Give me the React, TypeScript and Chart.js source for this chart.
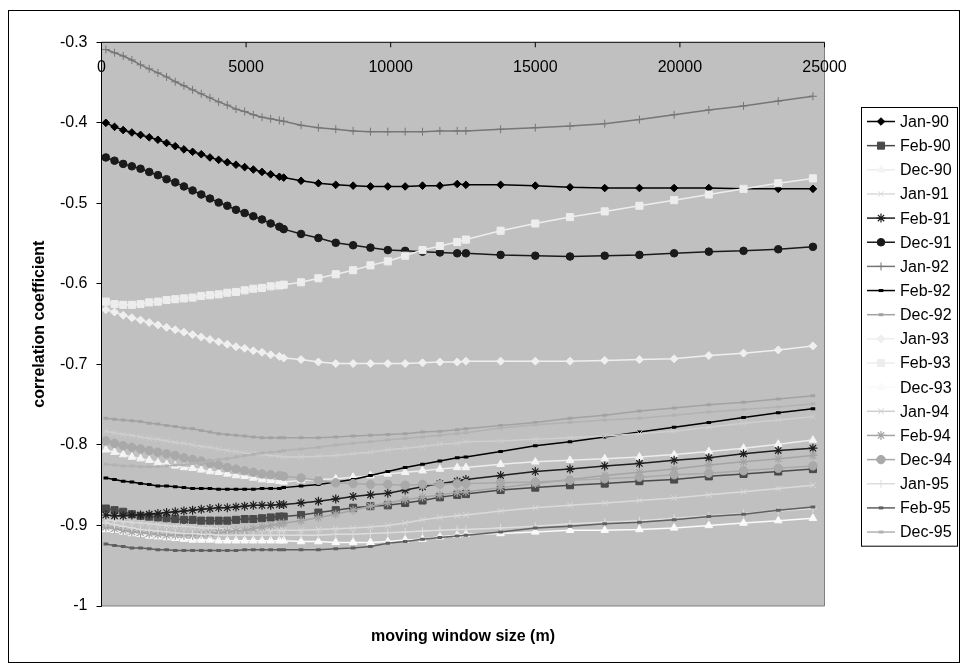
import React, { useEffect, useRef } from "react";
import { Chart, registerables } from "chart.js";
import { drawPoint } from "chart.js/helpers";

Chart.register(...registerables);

// ---------- data ----------
const windowSizes = [
  150, 450, 750, 1050, 1350, 1650, 1950, 2250, 2550, 2850, 3150, 3450, 3750, 4050, 4350, 4650, 4950, 5250, 5550, 5850, 6150,
  6300, 6900, 7500, 8100, 8700, 9300, 9900, 10500, 11100, 11700, 12300,
  12600, 13800, 15000, 16200, 17400, 18600, 19800, 21000, 22200, 23400, 24600,
];

const xTickLabels = [0, 5000, 10000, 15000, 20000, 25000];
const yTickValues = [-1, -0.9, -0.8, -0.7, -0.6, -0.5, -0.4, -0.3];

const seriesNames = [
  "Jan-90", "Feb-90", "Dec-90", "Jan-91", "Feb-91", "Dec-91", "Jan-92", "Feb-92", "Dec-92",
  "Jan-93", "Feb-93", "Dec-93", "Jan-94", "Feb-94", "Dec-94", "Jan-95", "Feb-95", "Dec-95",
];

const jan90 = [-0.400,-0.405,-0.409,-0.412,-0.415,-0.418,-0.421,-0.425,-0.429,-0.433,-0.436,-0.439,-0.443,-0.446,-0.449,-0.452,-0.455,-0.458,-0.461,-0.464,-0.467,
  -0.468,-0.472,-0.475,-0.477,-0.478,-0.479,-0.479,-0.479,-0.478,-0.478,-0.476,
  -0.477,-0.477,-0.478,-0.480,-0.481,-0.481,-0.481,-0.481,-0.482,-0.482,-0.482];
const feb90 = [-0.879,-0.881,-0.883,-0.886,-0.888,-0.889,-0.890,-0.891,-0.892,-0.893,-0.893,-0.894,-0.894,-0.894,-0.894,-0.893,-0.892,-0.892,-0.891,-0.890,-0.889,
  -0.889,-0.887,-0.884,-0.881,-0.878,-0.876,-0.875,-0.872,-0.869,-0.865,-0.862,
  -0.861,-0.856,-0.853,-0.850,-0.848,-0.845,-0.843,-0.839,-0.836,-0.833,-0.830];
const dec90 = [-0.806,-0.809,-0.812,-0.815,-0.817,-0.819,-0.822,-0.824,-0.826,-0.828,-0.829,-0.831,-0.833,-0.834,-0.836,-0.838,-0.839,-0.841,-0.843,-0.844,-0.845,
  -0.846,-0.844,-0.843,-0.842,-0.840,-0.838,-0.836,-0.834,-0.832,-0.830,-0.828,
  -0.828,-0.824,-0.821,-0.819,-0.817,-0.815,-0.812,-0.808,-0.804,-0.799,-0.794];
const jan91 = [-0.893,-0.894,-0.895,-0.896,-0.897,-0.898,-0.899,-0.900,-0.901,-0.901,-0.902,-0.903,-0.903,-0.904,-0.904,-0.905,-0.905,-0.905,-0.905,-0.906,-0.906,
  -0.906,-0.906,-0.905,-0.904,-0.903,-0.902,-0.900,-0.897,-0.893,-0.890,-0.888,
  -0.887,-0.882,-0.878,-0.875,-0.872,-0.869,-0.866,-0.862,-0.858,-0.854,-0.850];
const feb91 = [-0.887,-0.888,-0.888,-0.887,-0.887,-0.886,-0.885,-0.884,-0.883,-0.882,-0.881,-0.880,-0.879,-0.878,-0.878,-0.877,-0.876,-0.875,-0.875,-0.875,-0.874,
  -0.874,-0.872,-0.870,-0.867,-0.864,-0.862,-0.860,-0.856,-0.852,-0.848,-0.845,
  -0.843,-0.838,-0.833,-0.830,-0.826,-0.823,-0.819,-0.816,-0.811,-0.807,-0.804];
const dec91 = [-0.443,-0.447,-0.451,-0.454,-0.457,-0.461,-0.465,-0.470,-0.474,-0.479,-0.484,-0.489,-0.494,-0.499,-0.503,-0.508,-0.512,-0.516,-0.520,-0.525,-0.529,
  -0.532,-0.538,-0.543,-0.549,-0.552,-0.555,-0.558,-0.559,-0.560,-0.561,-0.562,
  -0.562,-0.564,-0.565,-0.566,-0.565,-0.564,-0.562,-0.560,-0.559,-0.557,-0.554];
const jan92 = [-0.309,-0.313,-0.317,-0.322,-0.328,-0.333,-0.338,-0.343,-0.349,-0.354,-0.359,-0.364,-0.369,-0.374,-0.378,-0.383,-0.386,-0.390,-0.393,-0.395,-0.397,
  -0.398,-0.403,-0.406,-0.408,-0.410,-0.411,-0.411,-0.411,-0.411,-0.410,-0.410,
  -0.410,-0.408,-0.406,-0.404,-0.401,-0.396,-0.390,-0.384,-0.379,-0.373,-0.367];
const feb92 = [-0.841,-0.843,-0.845,-0.846,-0.848,-0.849,-0.851,-0.851,-0.852,-0.853,-0.854,-0.854,-0.854,-0.855,-0.855,-0.855,-0.855,-0.855,-0.854,-0.854,-0.854,
  -0.853,-0.851,-0.849,-0.846,-0.843,-0.838,-0.833,-0.828,-0.824,-0.820,-0.816,
  -0.815,-0.808,-0.801,-0.796,-0.790,-0.784,-0.778,-0.772,-0.766,-0.760,-0.755];
const dec92 = [-0.767,-0.768,-0.769,-0.770,-0.771,-0.773,-0.774,-0.776,-0.777,-0.779,-0.780,-0.782,-0.784,-0.786,-0.787,-0.788,-0.789,-0.790,-0.791,-0.791,-0.791,
  -0.791,-0.791,-0.791,-0.790,-0.789,-0.788,-0.787,-0.786,-0.784,-0.783,-0.781,
  -0.780,-0.776,-0.772,-0.767,-0.763,-0.758,-0.754,-0.750,-0.747,-0.743,-0.739];
const jan93 = [-0.632,-0.635,-0.639,-0.642,-0.645,-0.648,-0.651,-0.654,-0.657,-0.660,-0.663,-0.666,-0.669,-0.672,-0.675,-0.678,-0.680,-0.683,-0.685,-0.688,-0.690,
  -0.692,-0.694,-0.697,-0.699,-0.699,-0.699,-0.699,-0.699,-0.698,-0.697,-0.697,
  -0.696,-0.696,-0.696,-0.696,-0.695,-0.694,-0.693,-0.689,-0.686,-0.682,-0.677];
const feb93 = [-0.622,-0.625,-0.626,-0.626,-0.625,-0.623,-0.622,-0.620,-0.619,-0.618,-0.617,-0.615,-0.614,-0.613,-0.611,-0.610,-0.608,-0.606,-0.605,-0.603,-0.602,
  -0.601,-0.598,-0.593,-0.588,-0.583,-0.577,-0.572,-0.565,-0.558,-0.553,-0.548,
  -0.545,-0.534,-0.525,-0.517,-0.510,-0.503,-0.496,-0.489,-0.482,-0.475,-0.469];
const dec93 = [-0.905,-0.906,-0.908,-0.910,-0.911,-0.913,-0.914,-0.915,-0.916,-0.917,-0.918,-0.918,-0.918,-0.919,-0.919,-0.919,-0.919,-0.919,-0.919,-0.919,-0.919,
  -0.919,-0.920,-0.920,-0.921,-0.921,-0.921,-0.920,-0.918,-0.917,-0.914,-0.912,
  -0.911,-0.910,-0.908,-0.906,-0.906,-0.905,-0.903,-0.900,-0.897,-0.894,-0.891];
const jan94 = [-0.783,-0.785,-0.787,-0.788,-0.790,-0.792,-0.793,-0.795,-0.797,-0.798,-0.800,-0.802,-0.803,-0.805,-0.807,-0.808,-0.810,-0.811,-0.812,-0.813,-0.814,
  -0.815,-0.815,-0.814,-0.813,-0.811,-0.809,-0.806,-0.804,-0.802,-0.799,-0.798,
  -0.796,-0.795,-0.793,-0.791,-0.789,-0.786,-0.783,-0.778,-0.773,-0.769,-0.765];
const feb94 = [-0.902,-0.904,-0.906,-0.908,-0.909,-0.910,-0.911,-0.912,-0.912,-0.912,-0.912,-0.911,-0.910,-0.909,-0.908,-0.907,-0.906,-0.904,-0.902,-0.900,-0.898,
  -0.897,-0.894,-0.890,-0.886,-0.881,-0.876,-0.872,-0.868,-0.865,-0.862,-0.859,
  -0.858,-0.853,-0.848,-0.843,-0.838,-0.834,-0.830,-0.825,-0.821,-0.817,-0.813];
const dec94 = [-0.795,-0.798,-0.801,-0.803,-0.805,-0.807,-0.809,-0.811,-0.813,-0.816,-0.818,-0.820,-0.823,-0.825,-0.828,-0.830,-0.832,-0.834,-0.836,-0.837,-0.838,
  -0.839,-0.841,-0.844,-0.847,-0.848,-0.849,-0.849,-0.850,-0.849,-0.849,-0.848,
  -0.848,-0.847,-0.846,-0.844,-0.842,-0.840,-0.837,-0.835,-0.832,-0.829,-0.826];
const jan95 = [-0.897,-0.899,-0.901,-0.903,-0.905,-0.906,-0.907,-0.908,-0.909,-0.910,-0.910,-0.911,-0.911,-0.912,-0.912,-0.912,-0.912,-0.912,-0.912,-0.912,-0.912,
  -0.912,-0.912,-0.912,-0.911,-0.911,-0.910,-0.909,-0.908,-0.907,-0.906,-0.905,
  -0.905,-0.903,-0.901,-0.898,-0.896,-0.894,-0.891,-0.888,-0.885,-0.882,-0.879];
const feb95 = [-0.923,-0.925,-0.926,-0.928,-0.928,-0.929,-0.930,-0.930,-0.931,-0.931,-0.931,-0.931,-0.931,-0.931,-0.931,-0.931,-0.930,-0.930,-0.930,-0.930,-0.930,
  -0.930,-0.930,-0.930,-0.929,-0.928,-0.926,-0.922,-0.920,-0.917,-0.915,-0.913,
  -0.912,-0.908,-0.903,-0.901,-0.898,-0.896,-0.893,-0.889,-0.886,-0.881,-0.877];
const dec95 = [-0.824,-0.825,-0.826,-0.826,-0.827,-0.827,-0.827,-0.826,-0.825,-0.825,-0.823,-0.822,-0.820,-0.818,-0.817,-0.815,-0.813,-0.812,-0.810,-0.809,-0.808,
  -0.807,-0.805,-0.803,-0.800,-0.798,-0.796,-0.794,-0.792,-0.790,-0.788,-0.786,
  -0.785,-0.779,-0.775,-0.772,-0.769,-0.767,-0.763,-0.759,-0.756,-0.753,-0.749];

const seriesValues = [
  jan90, feb90, dec90, jan91, feb91, dec91, jan92, feb92, dec92,
  jan93, feb93, dec93, jan94, feb94, dec94, jan95, feb95, dec95,
];

// ---------- styles ----------
type Sty = { line: string; mark: string; shape: string; r: number; bw: number };
const seriesStyles: Sty[] = [
  { line: "#000000", mark: "#000000", shape: "rectRot", r: 3.8, bw: 1 },
  { line: "#4a4a4a", mark: "#4a4a4a", shape: "rect", r: 5, bw: 1 },
  { line: "#ececec", mark: "#f4f4f4", shape: "triangle", r: 4.4, bw: 1 },
  { line: "#dadada", mark: "#dadada", shape: "crossRot", r: 4, bw: 1 },
  { line: "#1e1e1e", mark: "#1e1e1e", shape: "star", r: 4.5, bw: 1.2 },
  { line: "#1a1a1a", mark: "#1a1a1a", shape: "circle", r: 3.8, bw: 1 },
  { line: "#767676", mark: "#767676", shape: "cross", r: 4, bw: 1 },
  { line: "#000000", mark: "#000000", shape: "line", r: 2.3, bw: 3 },
  { line: "#a2a2a2", mark: "#a2a2a2", shape: "line", r: 2.3, bw: 3 },
  { line: "#efefef", mark: "#efefef", shape: "rectRot", r: 4, bw: 1 },
  { line: "#ededed", mark: "#ededed", shape: "rect", r: 5, bw: 1 },
  { line: "#fafafa", mark: "#fafafa", shape: "triangle", r: 4.4, bw: 1 },
  { line: "#cfcfcf", mark: "#cfcfcf", shape: "crossRot", r: 4, bw: 1 },
  { line: "#a4a4a4", mark: "#a4a4a4", shape: "star", r: 4.5, bw: 1.2 },
  { line: "#a9a9a9", mark: "#a9a9a9", shape: "circle", r: 4.2, bw: 1 },
  { line: "#dddddd", mark: "#dddddd", shape: "cross", r: 4, bw: 1 },
  { line: "#5f5f5f", mark: "#5f5f5f", shape: "line", r: 2.3, bw: 3 },
  { line: "#b2b2b2", mark: "#b2b2b2", shape: "line", r: 2.3, bw: 3 },
];

const FONT = '"Liberation Sans", Arial, sans-serif';

const excelPlugin = {
  id: "excelLook",
  beforeDraw(chart: any) {
    const { ctx, chartArea: a } = chart;
    ctx.save();
    ctx.fillStyle = "#ffffff";
    ctx.fillRect(0, 0, chart.width, chart.height);
    ctx.fillStyle = "#c0c0c0";
    ctx.fillRect(a.left, a.top, a.right - a.left, a.bottom - a.top);
    ctx.restore();
  },
  afterDraw(chart: any) {
    const { ctx, chartArea: a } = chart;
    const xs = chart.scales.x;
    ctx.save();
    // plot border (right / bottom)
    ctx.strokeStyle = "#808080";
    ctx.lineWidth = 1;
    ctx.beginPath();
    ctx.moveTo(a.right, a.top);
    ctx.lineTo(a.right, a.bottom);
    ctx.lineTo(a.left, a.bottom);
    ctx.stroke();
    // axes
    ctx.strokeStyle = "#000000";
    ctx.beginPath();
    ctx.moveTo(a.left, a.bottom);
    ctx.lineTo(a.left, a.top);
    ctx.lineTo(a.right, a.top);
    ctx.stroke();
    // x ticks & labels (axis crosses at top)
    ctx.fillStyle = "#000000";
    ctx.font = `16px ${FONT}`;
    ctx.textAlign = "center";
    ctx.textBaseline = "middle";
    xTickLabels.forEach((v) => {
      const px = xs.getPixelForValue(v);
      ctx.beginPath();
      ctx.moveTo(px, a.top);
      ctx.lineTo(px, a.top + 5);
      ctx.stroke();
      ctx.fillText(String(v), px, a.top + 25);
    });
    // axis titles
    ctx.font = `bold 16px ${FONT}`;
    ctx.fillText("moving window size (m)", (a.left + a.right) / 2, 637);
    ctx.save();
    ctx.translate(40, (a.top + a.bottom) / 2);
    ctx.rotate(-Math.PI / 2);
    ctx.fillText("correlation coefficient", 0, 0);
    ctx.restore();
    // legend
    const lx = 861.5, ly = 107.5, lw = 96, step = 24.15;
    const lh = step * seriesNames.length + 4;
    ctx.fillStyle = "#ffffff";
    ctx.fillRect(lx, ly, lw, lh);
    ctx.strokeStyle = "#000000";
    ctx.lineWidth = 1;
    ctx.strokeRect(lx, ly, lw, lh);
    ctx.font = `16px ${FONT}`;
    ctx.textAlign = "left";
    seriesNames.forEach((name, i) => {
      const st = seriesStyles[i];
      const y = ly + 14 + i * step;
      ctx.strokeStyle = st.line;
      ctx.lineWidth = 1.5;
      ctx.beginPath();
      ctx.moveTo(867, y);
      ctx.lineTo(895, y);
      ctx.stroke();
      ctx.fillStyle = st.mark;
      ctx.strokeStyle = st.mark;
      ctx.lineWidth = st.bw;
      drawPoint(ctx, { pointStyle: st.shape, radius: st.r, rotation: 0, borderWidth: st.bw } as any, 881, y);
      ctx.fillStyle = "#000000";
      ctx.fillText(name, 900, y + 1);
    });
    // outer frame
    ctx.strokeStyle = "#000000";
    ctx.lineWidth = 1;
    ctx.strokeRect(8.5, 10.5, 951, 652);
    ctx.restore();
  },
};

export default function App() {
  const ref = useRef<HTMLCanvasElement | null>(null);
  useEffect(() => {
    if (!ref.current) return;
    const datasets = seriesValues.map((vals, i) => {
      const st = seriesStyles[i];
      return {
        label: seriesNames[i],
        data: vals.map((v, j) => ({ x: windowSizes[j], y: v })),
        borderColor: st.line,
        backgroundColor: st.mark,
        borderWidth: 1.5,
        pointStyle: st.shape,
        pointRadius: st.r,
        pointBackgroundColor: st.mark,
        pointBorderColor: st.mark,
        pointBorderWidth: st.bw,
        tension: 0,
        fill: false,
        order: seriesValues.length - i,
      };
    });
    const chart = new Chart(ref.current, {
      type: "line",
      data: { datasets },
      plugins: [excelPlugin],
      options: {
        animation: false,
        responsive: false,
        devicePixelRatio: 1,
        layout: { padding: { left: 0, top: 42.3, right: 135.5, bottom: 57 } },
        plugins: { legend: { display: false }, tooltip: { enabled: false } },
        scales: {
          x: { type: "linear", min: 0, max: 25000, display: false },
          y: {
            type: "linear",
            min: -1,
            max: -0.3,
            position: "left",
            afterBuildTicks: (s: any) => {
              s.ticks = yTickValues.map((v) => ({ value: v }));
            },
            afterFit: (s: any) => {
              s.width = 101.5;
            },
            ticks: {
              color: "#000000",
              padding: 9,
              font: { family: FONT, size: 16 },
              callback: (v: any) => String(Number(Number(v).toFixed(1))),
            },
            grid: { display: true, drawOnChartArea: false, drawTicks: true, tickLength: 5, color: "#000000" },
            border: { display: true, color: "#000000" },
          },
        },
      } as any,
    });
    return () => chart.destroy();
  }, []);
  return (
    <div style={{ position: "absolute", left: 0, top: 0, width: 960, height: 663 }}>
      <canvas ref={ref} width={960} height={663} style={{ width: 960, height: 663, display: "block" }} />
    </div>
  );
}
